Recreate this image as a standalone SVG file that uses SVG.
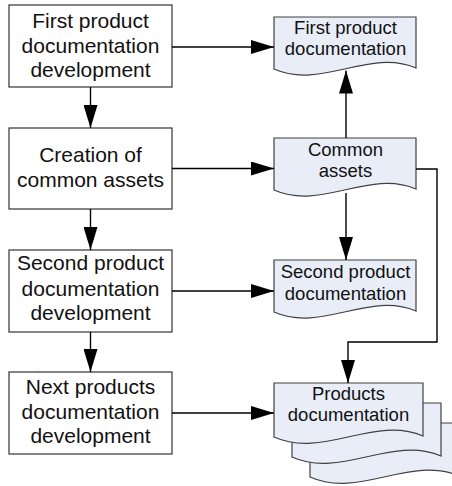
<svg xmlns="http://www.w3.org/2000/svg" width="452" height="486" viewBox="0 0 452 486">
<style>
.box{fill:#ffffff;stroke:#333333;stroke-width:1.2}
.doc{fill:#e8edf8;stroke:#404040;stroke-width:1.2}
.t1{font-family:"Liberation Sans",Arial,sans-serif;font-size:21px;fill:#111111;text-anchor:middle}
.t2{font-family:"Liberation Sans",Arial,sans-serif;font-size:18.5px;fill:#111111;text-anchor:middle}
.c{fill:none;stroke:#000000;stroke-width:1.4}
</style>
<defs>
<marker id="ah" viewBox="0 0 23 14" refX="23" refY="7" markerWidth="23" markerHeight="14" markerUnits="userSpaceOnUse" orient="auto">
<path d="M0,0 L23,7 L0,14 Z" fill="#000000"/>
</marker>
</defs>
<g id="box1"><rect class="box" x="9" y="5" width="163" height="82"/>
<text class="t1" x="90.5" y="28">First product</text><text class="t1" x="90.5" y="52.5">documentation</text><text class="t1" x="90.5" y="77">development</text></g>
<g id="box2"><rect class="box" x="9" y="128" width="163" height="81"/>
<text class="t1" x="90.5" y="162">Creation of</text><text class="t1" x="90.5" y="186.5">common assets</text></g>
<g id="box3"><rect class="box" x="9" y="250" width="163" height="82"/>
<text class="t1" x="90.5" y="270">Second product</text><text class="t1" x="90.5" y="295.5">documentation</text><text class="t1" x="90.5" y="320">development</text></g>
<g id="box4"><rect class="box" x="9" y="372" width="163" height="82"/>
<text class="t1" x="90.5" y="394">Next products</text><text class="t1" x="90.5" y="418.5">documentation</text><text class="t1" x="90.5" y="443">development</text></g>
<g id="doc1"><path class="doc" d="M274,17 L416,17 L416,68 C369,48 321,90 274,69 Z"/>
<text class="t2" x="345.5" y="34">First product</text><text class="t2" x="345.5" y="55">documentation</text></g>
<g id="doc2"><path class="doc" d="M274,138 L416,138 L416,189 C369,169 321,211 274,190 Z"/>
<text class="t2" x="345.5" y="156">Common</text><text class="t2" x="345.5" y="177">assets</text></g>
<g id="doc3"><path class="doc" d="M274,260 L416,260 L416,311 C369,291 321,333 274,312 Z"/>
<text class="t2" x="345.5" y="278">Second product</text><text class="t2" x="345.5" y="300">documentation</text></g>
<g id="doc4">
<path class="doc" d="M310,423 L459,423 L459,476 C410,455 359,499 310,477 Z"/>
<path class="doc" d="M292,403 L441,403 L441,456 C392,435 341,479 292,457 Z"/>
<path class="doc" d="M274,383 L423,383 L423,436 C374,415 323,459 274,437 Z"/>
<text class="t2" x="348.5" y="400">Products</text><text class="t2" x="348.5" y="421">documentation</text></g>
<g id="connectors">
<line class="c" x1="90.5" y1="87" x2="90.5" y2="128" marker-end="url(#ah)"/>
<line class="c" x1="90.5" y1="209" x2="90.5" y2="250" marker-end="url(#ah)"/>
<line class="c" x1="90.5" y1="332" x2="90.5" y2="372" marker-end="url(#ah)"/>
<line class="c" x1="172" y1="47" x2="274" y2="47" marker-end="url(#ah)"/>
<line class="c" x1="172" y1="168.5" x2="274" y2="168.5" marker-end="url(#ah)"/>
<line class="c" x1="172" y1="291" x2="274" y2="291" marker-end="url(#ah)"/>
<line class="c" x1="172" y1="413" x2="274" y2="413" marker-end="url(#ah)"/>
<line class="c" x1="346" y1="138" x2="346" y2="70.5" marker-end="url(#ah)"/>
<line class="c" x1="346" y1="193" x2="346" y2="260" marker-end="url(#ah)"/>
<polyline class="c" points="416,169 437,169 437,342 348,342 348,383" marker-end="url(#ah)"/>
</g>
</svg>
